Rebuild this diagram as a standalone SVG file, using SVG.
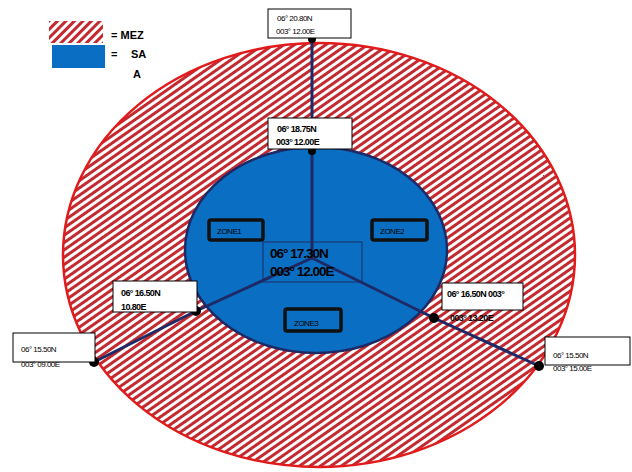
<svg xmlns="http://www.w3.org/2000/svg" width="632" height="472" viewBox="0 0 632 472">
<style>
.lbl{fill:#fff;stroke:#000;stroke-width:1}
.t{font-family:"Liberation Sans",Arial,sans-serif;font-size:8px;fill:#000;letter-spacing:-0.5px}
.tb{font-family:"Liberation Sans",Arial,sans-serif;font-size:9px;font-weight:bold;fill:#000;letter-spacing:-0.6px}
.big{font-family:"Liberation Sans",Arial,sans-serif;font-size:13.5px;font-weight:bold;fill:#000;letter-spacing:-1px}
.zone{fill:none;stroke:#111;stroke-width:3.5}
.spoke{stroke:#1e2a66;stroke-width:3;fill:none}
.dot{fill:#000}
.leg{font-family:"Liberation Sans",Arial,sans-serif;font-size:11px;font-weight:bold;fill:#000}
</style>
<defs>
<pattern id="hatch" width="6" height="6" patternUnits="userSpaceOnUse" patternTransform="rotate(-35)">
<rect width="6" height="6" fill="#fff"/>
<rect width="6" height="3" fill="#c32a30"/>
</pattern>
<pattern id="hatch2" width="6" height="6" patternUnits="userSpaceOnUse" patternTransform="rotate(-45)">
<rect width="6" height="6" fill="#fff"/>
<rect width="6" height="3" fill="#c32a30"/>
</pattern>
</defs>
<rect width="632" height="472" fill="#fff"/>
<g id="legend">
<rect x="49" y="21" width="54" height="22" fill="url(#hatch2)"/>
<rect x="52" y="45" width="53" height="23" fill="#0a6fc2"/>
<text class="leg" x="111" y="39">= MEZ</text>
<text class="leg" x="111" y="58">=</text>
<text class="leg" x="131" y="58">SA</text>
<text class="leg" x="133" y="78">A</text>
</g>
<g id="mez">
<ellipse cx="319" cy="255" rx="256" ry="212" fill="url(#hatch)" stroke="#e11b1b" stroke-width="2.5"/>
</g>
<g id="sa">
<ellipse cx="316" cy="250" rx="131" ry="103" fill="#0a6fc2" stroke="#1e2a66" stroke-width="2.5"/>
</g>
<g id="connectors">
<path class="spoke" d="M312 38 L312 258"/>
<path class="spoke" d="M312 258 L196 311 L94 362"/>
<path class="spoke" d="M312 258 L434 318 L539 366"/>
<circle class="dot" cx="312" cy="39" r="4"/>
<circle class="dot" cx="312" cy="151" r="4"/>
<circle class="dot" cx="196" cy="311" r="5"/>
<circle class="dot" cx="94" cy="362" r="5"/>
<circle class="dot" cx="434" cy="318" r="5"/>
<circle class="dot" cx="539" cy="366" r="5"/>
</g>
<g id="zone1">
<rect class="zone" x="209" y="220" width="54" height="20" rx="2"/>
<text class="t" x="217" y="234">ZONE1</text>
</g>
<g id="zone2">
<rect class="zone" x="372" y="220" width="55" height="20" rx="2"/>
<text class="t" x="380" y="234">ZONE2</text>
</g>
<g id="zone3">
<rect class="zone" x="285" y="309" width="56" height="22" rx="2"/>
<text class="t" x="294" y="326">ZONE3</text>
</g>
<g id="center">
<rect x="263" y="242" width="99" height="40" fill="none" stroke="#1e2a66" stroke-width="1"/>
<text class="big" x="270" y="258">06° 17.30N</text>
<text class="big" x="270" y="276">003° 12.00E</text>
</g>
<g id="p-top">
<rect class="lbl" x="268" y="9" width="83" height="29"/>
<text class="t" x="277" y="21">06° 20.80N</text>
<text class="t" x="276" y="34">003° 12.00E</text>
</g>
<g id="p-sa-top">
<rect class="lbl" x="268" y="118" width="84" height="31"/>
<text class="tb" x="277" y="132">06° 18.75N</text>
<text class="tb" x="276" y="145">003° 12.00E</text>
</g>
<g id="p-sa-left">
<rect class="lbl" x="113" y="281" width="84" height="31"/>
<text class="tb" x="121" y="296">06° 16.50N</text>
<text class="tb" x="121" y="310">10.80E</text>
</g>
<g id="p-sa-right">
<rect class="lbl" x="442" y="283" width="81" height="27"/>
<text class="tb" x="447" y="297">06° 16.50N 003°</text>
<text class="tb" x="450" y="321">003° 13.20E</text>
</g>
<g id="p-mez-left">
<rect class="lbl" x="13" y="333" width="82" height="29"/>
<text class="t" x="21" y="352">06° 15.50N</text>
<text class="t" x="21" y="367">003° 09.00E</text>
</g>
<g id="p-mez-right">
<rect class="lbl" x="545" y="337" width="85" height="28"/>
<text class="t" x="553" y="358">06° 15.50N</text>
<text class="t" x="553" y="371">003° 15.00E</text>
</g>
</svg>
